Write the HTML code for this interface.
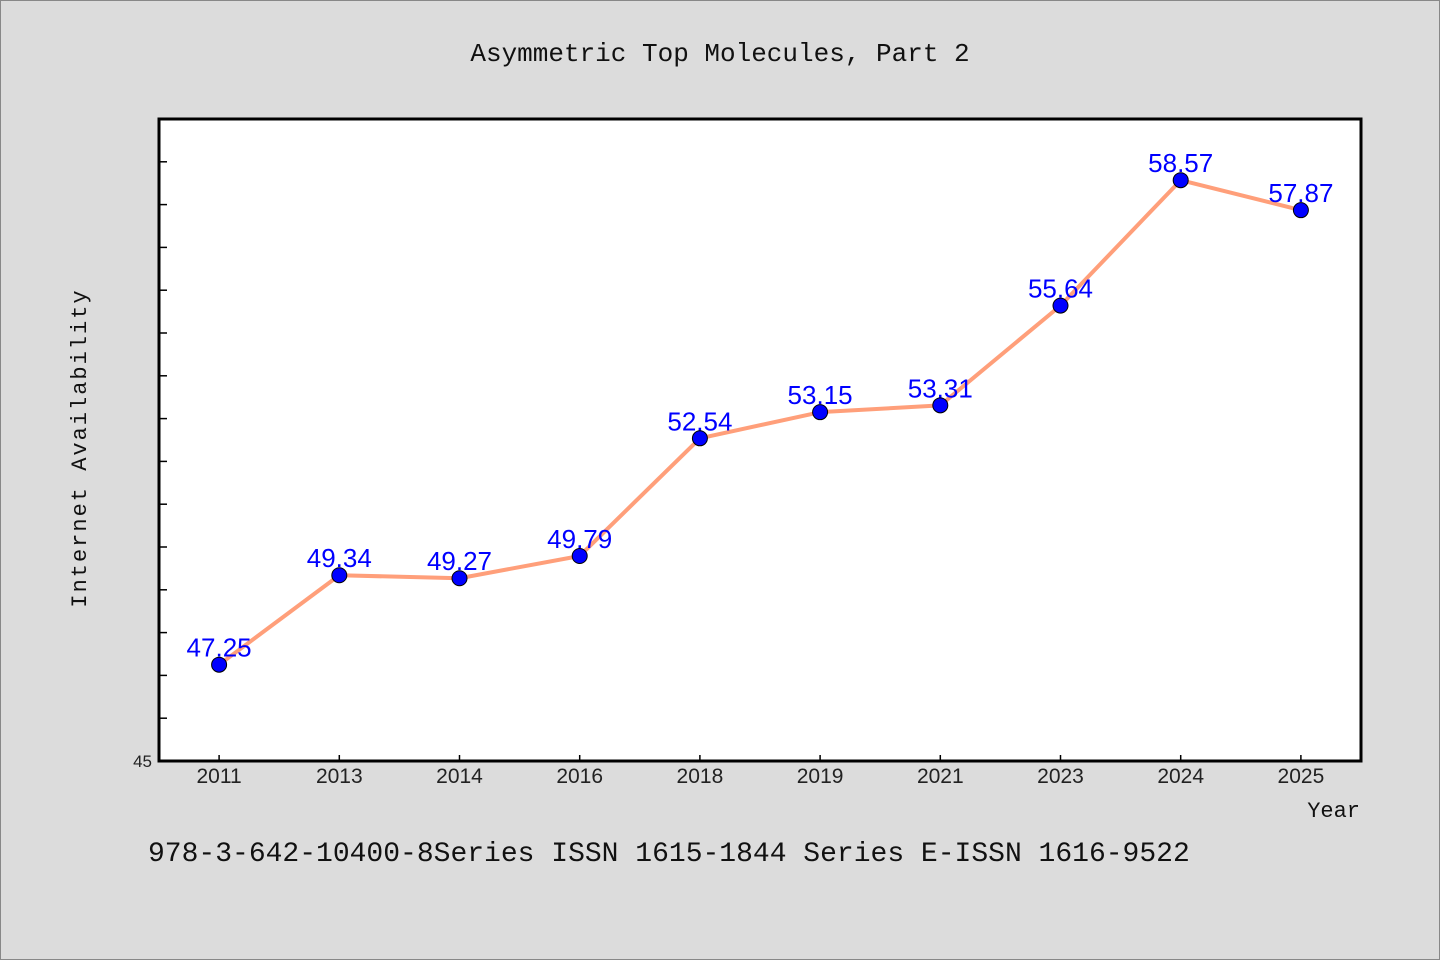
<!DOCTYPE html>
<html><head><meta charset="utf-8"><style>
html,body{margin:0;padding:0;background:#dcdcdc;}
svg{display:block}
</style></head><body>
<svg id="chart" width="1440" height="960" xmlns="http://www.w3.org/2000/svg">
<rect x="0.5" y="0.5" width="1439" height="959" fill="#dcdcdc" stroke="#888"/>
<text x="720" y="61" text-anchor="middle" font-family="Liberation Mono, monospace" font-size="26" fill="#111">Asymmetric Top Molecules, Part 2</text>
<rect x="159" y="119" width="1202" height="642" fill="#fff"/>
<g id="axes"></g>
<g id="series"></g>
<rect x="159" y="119" width="1202" height="642" fill="none" stroke="#000" stroke-width="3"/>
<text x="86" y="448" text-anchor="middle" transform="rotate(-90 86 448)" font-family="Liberation Mono, monospace" font-size="22" letter-spacing="2" fill="#111">Internet Availability</text>
<text x="1360" y="817" text-anchor="end" font-family="Liberation Mono, monospace" font-size="22" fill="#111">Year</text>
<text x="148" y="861" font-family="Liberation Mono, monospace" font-size="28" fill="#111">978-3-642-10400-8Series ISSN 1615-1844 Series E-ISSN 1616-9522</text>
</svg>
<script>
const categories=["2011","2013","2014","2016","2018","2019","2021","2023","2024","2025"];
const values=[47.25,49.34,49.27,49.79,52.54,53.15,53.31,55.64,58.57,57.87];
const yTicks=[45,46,47,48,49,50,51,52,53,54,55,56,57,58,59,60];
const yMin=45,yMax=60;
const L=159,R=1361,T=119,B=761;
const NS="http://www.w3.org/2000/svg";
const bw=(R-L)/categories.length;
function xs(i){return L+bw*(i+0.5);}
function ys(v){return B-(v-yMin)/(yMax-yMin)*(B-T);}
function mk(tag,attrs,parent){const e=document.createElementNS(NS,tag);for(const k in attrs)e.setAttribute(k,attrs[k]);parent.appendChild(e);return e;}
const ax=document.getElementById('axes'),se=document.getElementById('series');
yTicks.forEach(v=>{
 const y=ys(v);
 const t=mk('line',{x1:L,x2:L+8,y1:y,y2:y,stroke:'#000','stroke-width':1.5},ax);
 
 
});
const yl=mk('text',{x:152,y:B+6,'text-anchor':'end','font-family':'Liberation Sans, sans-serif','font-size':17,fill:'#222'},ax);
yl.textContent=String(yTicks[0]);


categories.forEach((c,i)=>{
 const x=xs(i);
 const t=mk('line',{x1:x,x2:x,y1:B,y2:B-6,stroke:'#000','stroke-width':1.5},ax);
 
 
 const l=mk('text',{x:x,y:B+22,'text-anchor':'middle','font-family':'Liberation Sans, sans-serif','font-size':21,fill:'#222'},ax);
 l.textContent=c;
 
 
});
const pts=values.map((v,i)=>xs(i)+','+ys(v)).join(' ');
const line=mk('polyline',{points:pts,fill:'none',stroke:'#ff9f7a','stroke-width':4,'stroke-linejoin':'round'},se);


values.forEach((v,i)=>{
 const lb=mk('text',{x:xs(i),y:ys(v)-8,'text-anchor':'middle','font-family':'Liberation Sans, sans-serif','font-size':26,fill:'#0000ff'},se);
 lb.textContent=v.toFixed(2);
 
 
});
values.forEach((v,i)=>{
 const p=mk('circle',{cx:xs(i),cy:ys(v),r:7.5,fill:'#0000ff',stroke:'#000','stroke-width':1},se);
 
 
});
</script>
</body></html>
